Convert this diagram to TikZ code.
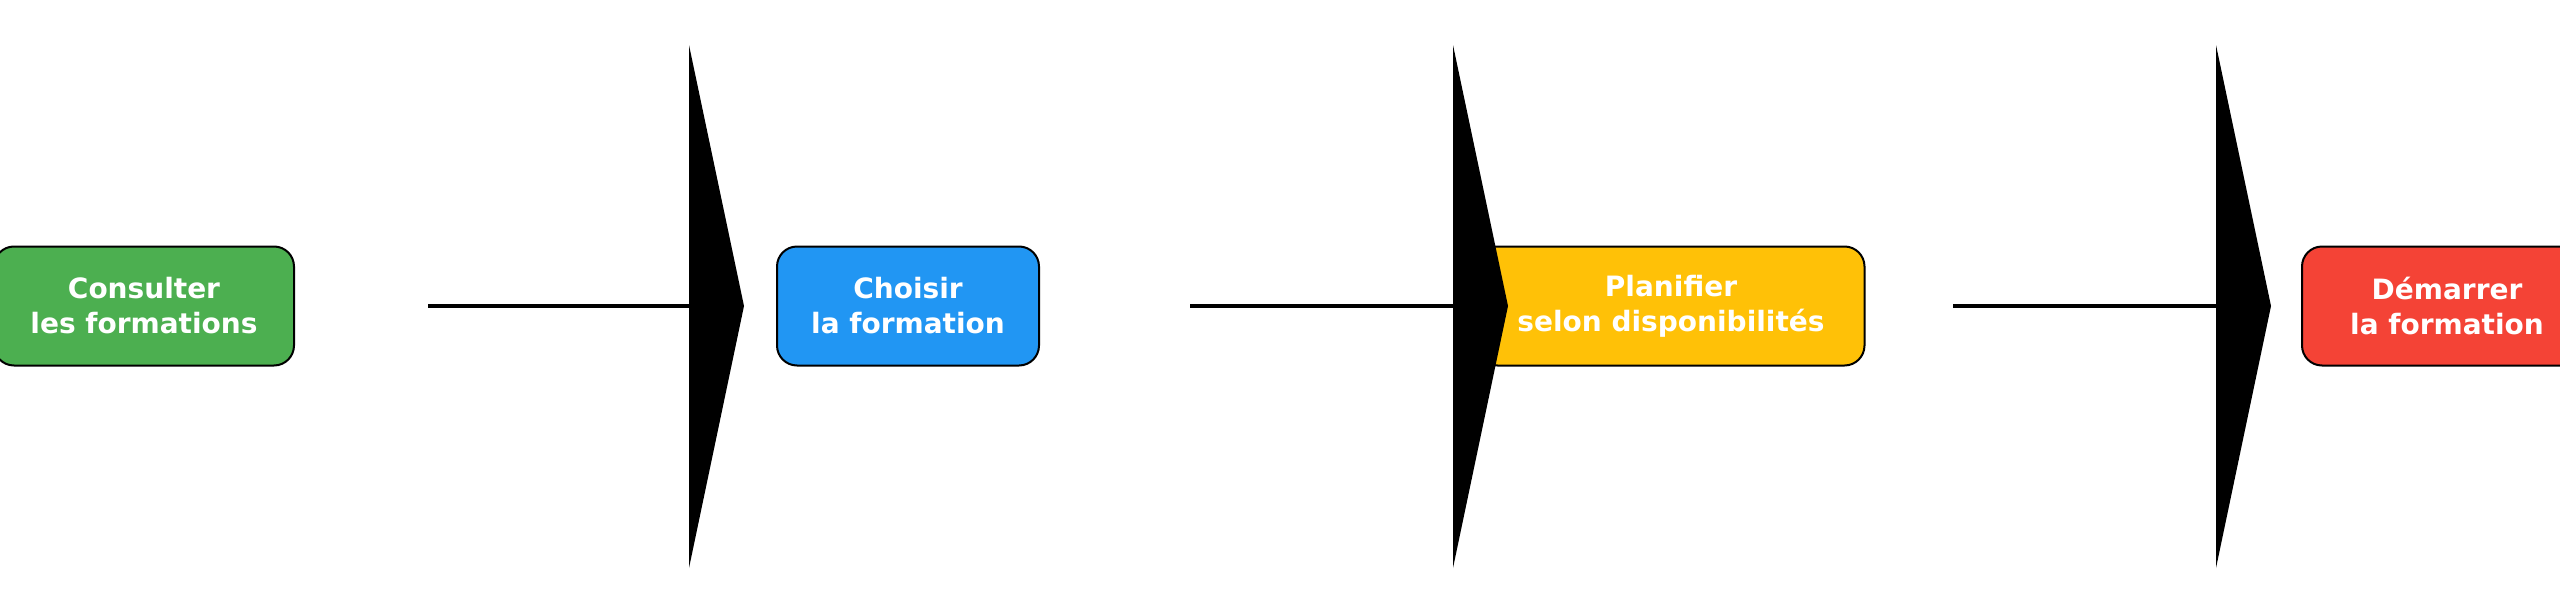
\documentclass[tikz,border=0pt]{standalone}
\usepackage{fontspec}
\setmainfont{DejaVu Sans}
\usetikzlibrary{positioning}
\definecolor{cgreen}{HTML}{4CAF50}
\definecolor{cblue}{HTML}{2196F3}
\definecolor{cyellow}{HTML}{FFC107}
\definecolor{cred}{HTML}{F44336}
\begin{document}
\begin{tikzpicture}[x=1pt, y=-1pt,
    stepbox/.style={draw, line width=2pt, rounded corners=20pt, text=white, align=center,
      font=\fontsize{28}{35}\selectfont\bfseries, minimum height=119pt, inner sep=0pt},
    link/.style={line width=3.5pt},
    bigtip/.style={fill=black}]
    \useasboundingbox (0,0) rectangle (2560,613);

    % steps
    \node[stepbox, fill=cgreen, minimum width=300pt] (consult) at (144,306) {Consulter\\les formations};
    \node[stepbox, fill=cblue, minimum width=262pt] (choose) at (908,306) {Choisir\\la formation};
    \node[stepbox, fill=cyellow, minimum width=387pt] (plan) at (1671,306) {Planifier\\selon disponibilités};
    \node[stepbox, fill=cred, minimum width=290pt] (start) at (2447,306) {Démarrer\\la formation};

    % connectors with large heads
    \foreach \i/\a/\b in {1/428/689, 2/1190/1453, 3/1953/2216} {
      \coordinate (s\i) at (\a,306);
      \coordinate (e\i) at (\b,306);
      \draw[link] (s\i) -- (e\i);
      \fill[bigtip] (\b,45) -- (\b+55,306) -- (\b,568) -- cycle;
    }
\end{tikzpicture}
\end{document}
